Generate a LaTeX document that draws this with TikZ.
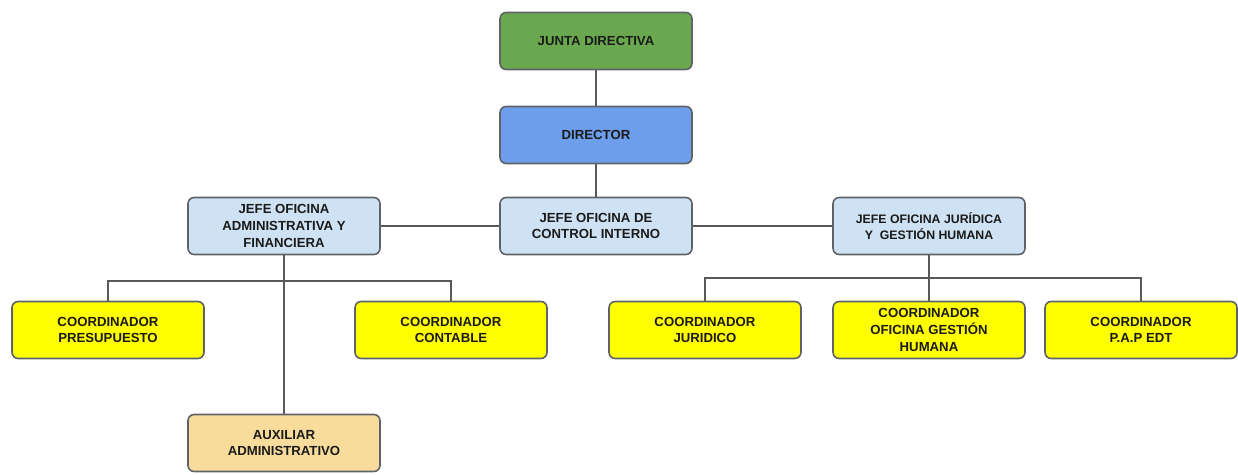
\documentclass[tikz,border=0pt]{standalone}
\usepackage{fontspec}
\setmainfont{Liberation Sans}
\usetikzlibrary{positioning}
\definecolor{juntagreen}{HTML}{6AA84F}
\definecolor{dirblue}{HTML}{6D9EEB}
\definecolor{jefeblue}{HTML}{CFE2F3}
\definecolor{coordyellow}{HTML}{FFFF00}
\definecolor{auxtan}{HTML}{F9DC9C}
\definecolor{boxgrey}{HTML}{5F6368}
\definecolor{linegrey}{HTML}{595959}
\definecolor{textdark}{HTML}{1A1A1A}

\begin{document}
\begin{tikzpicture}[x=0.02cm,y=-0.02cm,
    cargo/.style={draw=boxgrey, line width=0.9pt, rounded corners=3.5pt,
      minimum width=3.84cm, minimum height=1.14cm, inner sep=1pt, align=center,
      font=\fontsize{7.5}{9.5}\selectfont\bfseries, text=textdark},
    enlace/.style={draw=linegrey, line width=1pt}]
  \useasboundingbox (0,0) rectangle (1238,474);
  % direccion
  \node[cargo, fill=juntagreen] (junta) at (596,41) {JUNTA DIRECTIVA};
  \node[cargo, fill=dirblue] (director) at (596,135) {DIRECTOR};
  % jefes de oficina
  \node[cargo, fill=jefeblue] (control) at (596,226) {JEFE OFICINA DE\\CONTROL INTERNO};
  \node[cargo, fill=jefeblue] (adm) at (284,226) {JEFE OFICINA\\ADMINISTRATIVA Y\\FINANCIERA};
  \node[cargo, fill=jefeblue, font=\fontsize{7}{9.5}\selectfont\bfseries] (jur) at (929,226) {JEFE OFICINA JURÍDICA\\Y\ \ GESTIÓN HUMANA};
  % coordinadores
  \node[cargo, fill=coordyellow] (pres) at (108,330) {COORDINADOR\\PRESUPUESTO};
  \node[cargo, fill=coordyellow] (cont) at (451,330) {COORDINADOR\\CONTABLE};
  \node[cargo, fill=coordyellow] (cjur) at (705,330) {COORDINADOR\\JURIDICO};
  \node[cargo, fill=coordyellow] (cgh) at (929,330) {COORDINADOR\\OFICINA GESTIÓN\\HUMANA};
  \node[cargo, fill=coordyellow] (pap) at (1141,330) {COORDINADOR\\P.A.P EDT};
  \node[cargo, fill=auxtan] (aux) at (284,443) {AUXILIAR\\ADMINISTRATIVO};

  \draw[enlace] (junta) -- (director);
  \draw[enlace] (director) -- (control);
  \draw[enlace] (adm) -- (control);
  \draw[enlace] (control) -- (jur);
  \draw[enlace] (adm) -- (aux);
  \coordinate (busL) at (284,281);
  \draw[enlace] (pres.north) |- (busL) -| (cont.north);
  \coordinate (busR) at (929,278);
  \draw[enlace] (jur) -- (busR);
  \draw[enlace] (cjur.north) |- (busR) -| (pap.north);
  \draw[enlace] (busR) -- (cgh);
\end{tikzpicture}
\end{document}
